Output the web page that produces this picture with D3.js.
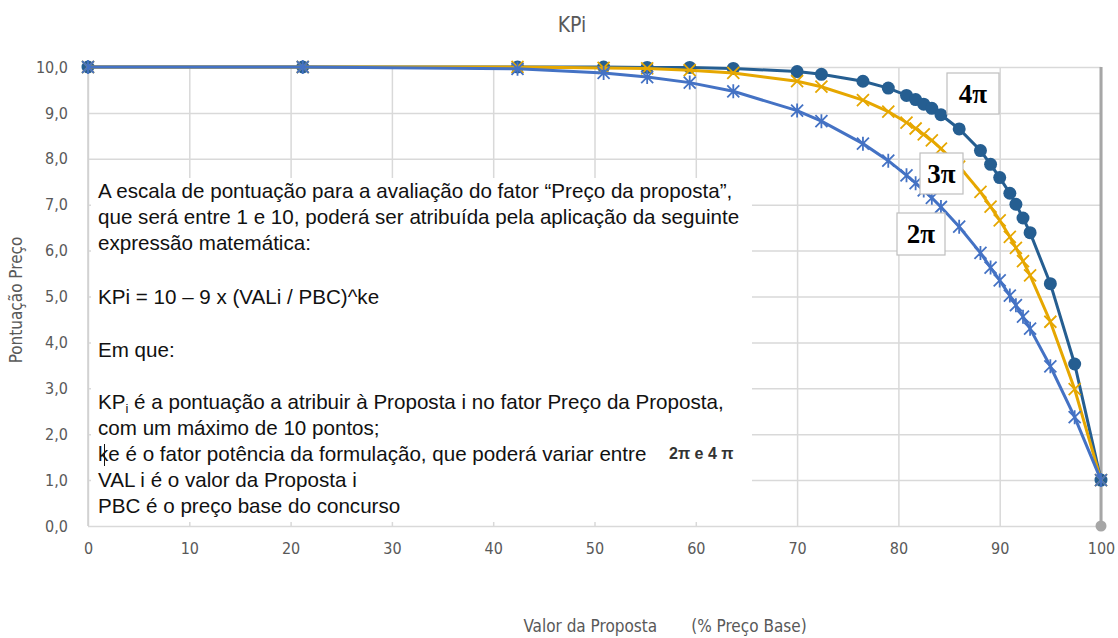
<!DOCTYPE html>
<html>
<head>
<meta charset="utf-8">
<script src="https://cdn.jsdelivr.net/npm/d3@7"></script>
<style>
  body { margin: 0; background: #fff; }
  svg { display: block; }
</style>
</head>
<body>
<div id="chart"></div>
<script>
// Valor da Proposta (% Preço Base) — shared x positions of the markers
const valor = [0, 21.2, 42.4, 50.9, 55.2, 59.4, 63.7, 70.0, 72.4, 76.5, 79.0, 80.8, 81.7,
  82.5, 83.3, 84.2, 86.0, 88.1, 89.1, 90.0, 91.0, 91.6, 92.3, 93.0, 95.0, 97.4, 100];

// Pontuação Preço per series
const kp2pi = [10.00, 10.00, 9.96, 9.87, 9.78, 9.66, 9.47, 9.05, 8.82, 8.33, 7.96, 7.64, 7.47,
  7.31, 7.15, 6.95, 6.52, 5.95, 5.63, 5.35, 5.02, 4.81, 4.56, 4.30, 3.48, 2.37, 1.00];
const kp3pi = [10.00, 10.00, 10.00, 9.98, 9.97, 9.93, 9.87, 9.69, 9.57, 9.28, 9.03, 8.79, 8.66,
  8.53, 8.40, 8.22, 7.83, 7.28, 6.96, 6.66, 6.30, 6.06, 5.77, 5.46, 4.45, 2.98, 1.00];
const kp4pi = [10.00, 10.00, 10.00, 10.00, 9.99, 9.99, 9.97, 9.90, 9.84, 9.69, 9.54, 9.38, 9.29,
  9.19, 9.10, 8.96, 8.65, 8.18, 7.88, 7.59, 7.25, 7.01, 6.71, 6.39, 5.28, 3.53, 1.00];

// vertical limit line at 100 %
const limiteX = [100, 100];
const limiteY = [0, 10];

const xTicks = [0, 10, 20, 30, 40, 50, 60, 70, 80, 90, 100];
const yTicks = [0, 1, 2, 3, 4, 5, 6, 7, 8, 9, 10];

const width = 1118, height = 638;
const narrow = '"DejaVu Sans Condensed", "Liberation Sans", Arial, sans-serif';

const svg = d3.select('#chart').append('svg')
  .attr('width', width).attr('height', height);

const x = d3.scaleLinear().domain([0, 100]).range([88, 1101]);
const y = d3.scaleLinear().domain([0, 10]).range([526, 67]);

// gridlines
svg.append('g')
  .attr('transform', `translate(0,${y(0)})`)
  .call(d3.axisBottom(x).tickValues(xTicks).tickSize(-(y(0) - y(10))).tickFormat(''))
  .call(g => g.select('.domain').remove())
  .call(g => g.selectAll('line').attr('stroke', '#d9d9d9').attr('stroke-width', 1.5));

svg.append('g')
  .attr('transform', `translate(${x(0)},0)`)
  .call(d3.axisLeft(y).tickValues(yTicks).tickSize(-(x(100) - x(0))).tickFormat(''))
  .call(g => g.select('.domain').remove())
  .call(g => g.selectAll('line').attr('stroke', '#d9d9d9').attr('stroke-width', 1.5));

// left axis line
svg.append('line')
  .attr('x1', x(0)).attr('x2', x(0)).attr('y1', y(0)).attr('y2', y(10))
  .attr('stroke', '#cfcfcf').attr('stroke-width', 1.5);

// tick labels
svg.append('g')
  .attr('transform', `translate(${x(0) - 17},0)`)
  .call(d3.axisLeft(y).tickValues(yTicks).tickSize(0).tickFormat(d => d3.format('.1f')(d).replace('.', ',')))
  .call(g => g.select('.domain').remove())
  .call(g => g.selectAll('text')
    .attr('fill', '#595959').attr('font-size', '16px').attr('font-family', narrow));

svg.append('g')
  .attr('transform', `translate(0,${y(0) + 14})`)
  .call(d3.axisBottom(x).tickValues(xTicks).tickSize(0))
  .call(g => g.select('.domain').remove())
  .call(g => g.selectAll('text')
    .attr('fill', '#595959').attr('font-size', '16px').attr('font-family', narrow));

// titles
svg.append('text')
  .attr('x', 572).attr('y', 32)
  .attr('text-anchor', 'middle')
  .attr('fill', '#595959')
  .attr('font-size', '21px')
  .attr('font-family', narrow)
  .text('KPi');

svg.append('text')
  .attr('transform', 'translate(22,300) rotate(-90)')
  .attr('text-anchor', 'middle')
  .attr('fill', '#595959')
  .attr('font-size', '17px')
  .attr('font-family', narrow)
  .text('Pontuação Preço');

svg.append('text')
  .attr('x', 665).attr('y', 632)
  .attr('text-anchor', 'middle')
  .attr('fill', '#595959')
  .attr('font-size', '17px')
  .attr('font-family', narrow)
  .style('white-space', 'pre')
  .text('Valor da Proposta       (% Preço Base)');

// text box (covers the grid)
svg.append('rect')
  .attr('x', 91).attr('y', 178)
  .attr('width', 661).attr('height', 344)
  .attr('fill', '#fff');

const boxFont = '"Liberation Sans", Arial, sans-serif';
const boxSize = '20.6px';
const lines = [
  [198, 'A escala de pontuação para a avaliação do fator “Preço da proposta”,'],
  [224, 'que será entre 1 e 10, poderá ser atribuída pela aplicação da seguinte'],
  [250, 'expressão matemática:'],
  [304, 'KPi = 10 – 9 x (VALi / PBC)^ke'],
  [357, 'Em que:'],
  [435, 'com um máximo de 10 pontos;'],
  [461, 'ke é o fator potência da formulação, que poderá variar entre'],
  [487, 'VAL i é o valor da Proposta i'],
  [513, 'PBC é o preço base do concurso']
];
lines.forEach(([ty, t]) => {
  svg.append('text')
    .attr('x', 98).attr('y', ty)
    .attr('fill', '#111')
    .attr('font-size', boxSize)
    .attr('font-family', boxFont)
    .text(t);
});

const kpLine = svg.append('text')
  .attr('x', 98).attr('y', 409)
  .attr('fill', '#111')
  .attr('font-size', boxSize)
  .attr('font-family', boxFont);
kpLine.append('tspan').text('KP');
kpLine.append('tspan').attr('font-size', '13px').attr('dy', 4).text('i');
kpLine.append('tspan').attr('dy', -4).text(' é a pontuação a atribuir à Proposta i no fator Preço da Proposta,');

// text cursor mark in "ke"
svg.append('line')
  .attr('x1', 104.5).attr('x2', 104.5).attr('y1', 444).attr('y2', 466)
  .attr('stroke', '#111').attr('stroke-width', 1);

svg.append('text')
  .attr('x', 669).attr('y', 459)
  .attr('fill', '#333')
  .attr('font-size', '16px')
  .attr('font-weight', 700)
  .attr('font-family', boxFont)
  .text('2π e 4 π');

// series
const series = [
  { name: '4π', values: kp4pi, color: '#255e91', marker: 'circle' },
  { name: '3π', values: kp3pi, color: '#e6a700', marker: 'x' },
  { name: '2π', values: kp2pi, color: '#4472c4', marker: 'star' }
];

const line = d3.line().x(d => x(d[0])).y(d => y(d[1]));

// gray limit line at 100
svg.append('path')
  .attr('d', line(d3.zip(limiteX, limiteY)))
  .attr('stroke', '#a6a6a6').attr('stroke-width', 3).attr('fill', 'none');
svg.append('circle')
  .attr('cx', x(limiteX[0])).attr('cy', y(limiteY[0])).attr('r', 5.5)
  .attr('fill', '#a6a6a6');

const xPath = 'M-6,-6L6,6M-6,6L6,-6';
const starPath = 'M0,-7L0,7M-6,-6L6,6M-6,6L6,-6';

series.forEach(s => {
  const pts = d3.zip(valor, s.values);
  svg.append('path')
    .attr('d', line(pts))
    .attr('fill', 'none')
    .attr('stroke', s.color)
    .attr('stroke-width', 3);

  const g = svg.append('g');
  if (s.marker === 'circle') {
    g.selectAll('circle').data(pts).join('circle')
      .attr('cx', d => x(d[0])).attr('cy', d => y(d[1])).attr('r', 6.5)
      .attr('fill', s.color);
  } else {
    g.selectAll('path').data(pts).join('path')
      .attr('transform', d => `translate(${x(d[0])},${y(d[1])})`)
      .attr('d', s.marker === 'x' ? xPath : starPath)
      .attr('stroke', s.color)
      .attr('stroke-width', 1.8)
      .attr('fill', 'none');
  }
});

// series labels
const labels = [
  { text: '4π', x0: 947, y0: 73, w: 52, h: 41 },
  { text: '3π', x0: 920, y0: 153, w: 43, h: 41 },
  { text: '2π', x0: 897, y0: 213, w: 48, h: 42 }
];
labels.forEach(l => {
  svg.append('rect')
    .attr('x', l.x0).attr('y', l.y0).attr('width', l.w).attr('height', l.h)
    .attr('fill', '#fff').attr('stroke', '#bfbfbf').attr('stroke-width', 1.2);
  svg.append('text')
    .attr('x', l.x0 + l.w / 2).attr('y', l.y0 + l.h / 2 + 9)
    .attr('text-anchor', 'middle')
    .attr('fill', '#000')
    .attr('font-size', '27px')
    .attr('font-weight', 700)
    .attr('font-family', '"Liberation Serif", "DejaVu Serif", serif')
    .text(l.text);
});
</script>
</body>
</html>
